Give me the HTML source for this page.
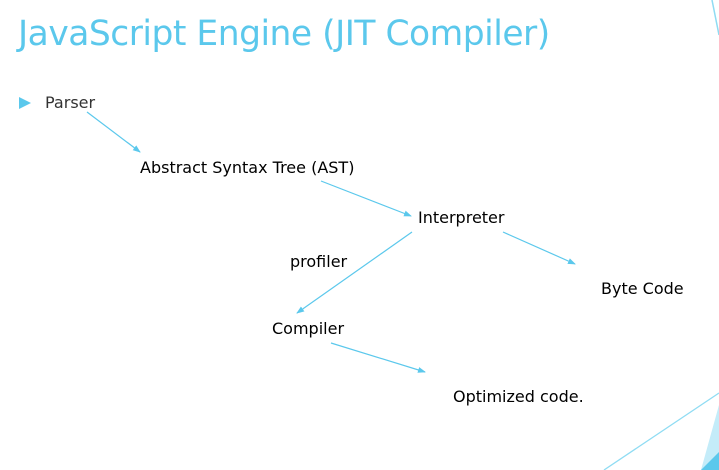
<!DOCTYPE html>
<html><head><meta charset="utf-8"><style>
body{margin:0;width:719px;height:470px;background:#fff;overflow:hidden;position:relative;font-family:"DejaVu Sans","Liberation Sans",sans-serif}
.t{position:absolute;font-size:16px;color:#000;white-space:nowrap;line-height:1}
h1{position:absolute;left:18px;top:14px;margin:0;font-weight:normal;font-size:34.5px;color:#5bc8ec;font-family:"DejaVu Sans","Liberation Sans",sans-serif;letter-spacing:-0.5px;white-space:nowrap}
svg{position:absolute;left:0;top:0}
</style></head><body>
<svg width="719" height="470">
<defs><marker id="a" markerWidth="8" markerHeight="8" refX="7" refY="4" orient="auto" markerUnits="userSpaceOnUse"><path d="M0,1 L8,4 L0,7z" fill="#5bc8ec"/></marker></defs>
<g stroke="#5bc8ec" stroke-width="1.2" marker-end="url(#a)">
<line x1="87" y1="112" x2="140" y2="152"/>
<line x1="321" y1="181" x2="411" y2="216"/>
<line x1="412" y1="232" x2="297" y2="313"/>
<line x1="503" y1="232" x2="575" y2="264"/>
<line x1="331" y1="343" x2="425" y2="372"/>
</g>
<path d="M19,97 L31,103 L19,109z" fill="#5bc8ec"/>
<line x1="712" y1="0" x2="719" y2="35" stroke="#8fdcf3" stroke-width="1.5"/>
<line x1="604" y1="470" x2="719" y2="393" stroke="#8fdcf3" stroke-width="1.3"/>
<path d="M701,470 L719,405 L719,470z" fill="#c4ecf9"/>
<path d="M701,470 L719,452 L719,470z" fill="#5bc8ec"/>
</svg>
<h1>JavaScript Engine (JIT Compiler)</h1>
<div class="t" style="left:45px;top:95px;color:#333">Parser</div>
<div class="t" style="left:140px;top:160px">Abstract Syntax Tree (AST)</div>
<div class="t" style="left:418px;top:210px">Interpreter</div>
<div class="t" style="left:290px;top:254px">profiler</div>
<div class="t" style="left:601px;top:281px">Byte Code</div>
<div class="t" style="left:272px;top:321px">Compiler</div>
<div class="t" style="left:453px;top:389px">Optimized code.</div>
</body></html>
